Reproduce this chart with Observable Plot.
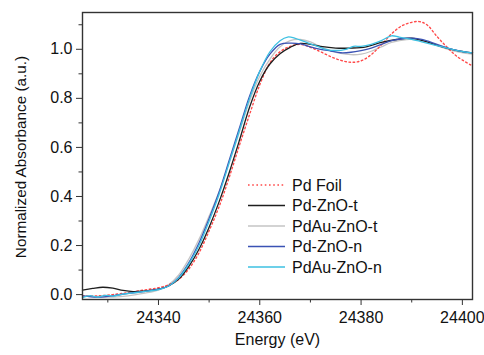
<!DOCTYPE html>
<html>
<head>
<meta charset="utf-8">
<script src="https://cdn.jsdelivr.net/npm/d3@7"></script>
<script src="https://cdn.jsdelivr.net/npm/@observablehq/plot@0.6"></script>
<style>
  html, body { margin: 0; padding: 0; background: #fff; }
  #chart { width: 484px; height: 355px; }
</style>
</head>
<body>
<div id="chart"></div>
<script>
// ---- data ----
const seriesNames = ["Pd Foil", "Pd-ZnO-t", "PdAu-ZnO-t", "Pd-ZnO-n", "PdAu-ZnO-n"];
const seriesColors = ["#ff4a4a", "#1e1e1e", "#c4c4c4", "#3a52b4", "#3cc0e2"];

const pdFoilE = [24325,24328,24331,24334,24337,24340,24342,24344,24346,24348,24350,24352,24354,24356,24358,24360,24362,24364,24366,24368,24370,24372,24374,24376,24378,24380,24382,24384,24386,24388,24390,24391.5,24393,24395,24397,24399,24402];
const pdFoilA = [-0.005,-0.005,0.0,0.008,0.018,0.028,0.04,0.062,0.105,0.17,0.26,0.36,0.48,0.61,0.735,0.855,0.945,0.99,1.012,1.02,1.008,0.99,0.97,0.955,0.947,0.953,0.978,1.018,1.063,1.095,1.11,1.113,1.1,1.052,1.008,0.97,0.932];

const pdZnOtE = [24325,24327,24329,24331,24333,24335,24337,24340,24342,24344,24346,24348,24350,24352,24354,24356,24358,24360,24362,24364,24366,24368,24370,24372,24375,24378,24381,24384,24387,24390,24393,24396,24399,24402];
const pdZnOtA = [0.018,0.025,0.03,0.026,0.017,0.012,0.014,0.022,0.035,0.063,0.115,0.185,0.275,0.38,0.5,0.63,0.765,0.87,0.94,0.982,1.008,1.024,1.02,1.012,1.005,1.005,1.01,1.028,1.04,1.045,1.03,1.01,0.995,0.985];

const pdAuZnOtE = [24325,24328,24331,24334,24337,24340,24342,24344,24346,24348,24350,24352,24354,24356,24358,24360,24362,24364,24366,24368,24370,24372,24374,24376,24378,24380,24382,24384,24386,24389,24392,24395,24398,24402];
const pdAuZnOtA = [-0.005,-0.01,-0.01,-0.005,0.005,0.018,0.04,0.08,0.145,0.225,0.32,0.42,0.54,0.665,0.79,0.89,0.96,1.01,1.035,1.04,1.03,1.01,0.995,0.983,0.978,0.98,0.992,1.01,1.028,1.04,1.035,1.015,0.995,0.98];

const pdZnOnE = [24325,24328,24331,24334,24337,24340,24342,24344,24346,24348,24350,24352,24354,24356,24358,24360,24362,24364,24366,24368,24370,24372,24374,24376,24378,24380,24382,24384,24386,24389,24392,24395,24398,24402];
const pdZnOnA = [-0.005,-0.01,-0.005,0.005,0.012,0.022,0.035,0.07,0.13,0.21,0.31,0.42,0.55,0.68,0.81,0.91,0.98,1.02,1.025,1.022,1.01,1.0,0.993,0.986,0.988,0.995,1.005,1.02,1.035,1.045,1.04,1.02,1.0,0.985];

const pdAuZnOnE = [24325,24326.5,24328,24329.5,24331,24333,24335,24337,24340,24342,24344,24346,24348,24350,24352,24354,24356,24358,24360,24362,24364,24365.5,24367,24369,24371,24373,24375,24377,24378.5,24380,24382,24384,24386,24387.5,24390,24393,24396,24399,24402];
const pdAuZnOnA = [-0.012,-0.004,-0.01,-0.003,-0.006,0.002,0.007,0.012,0.02,0.035,0.068,0.125,0.2,0.3,0.41,0.54,0.67,0.8,0.91,0.99,1.035,1.05,1.045,1.03,1.015,1.0,0.995,1.0,1.012,1.012,1.02,1.035,1.055,1.05,1.04,1.025,1.01,0.995,0.985];

const xMajorTicks = [24340, 24360, 24380, 24400];
const xMinorTicks = [24330, 24350, 24370, 24390];
const yMajorTicks = [0.0, 0.2, 0.4, 0.6, 0.8, 1.0];
const yMinorTicks = [0.1, 0.3, 0.5, 0.7, 0.9, 1.1];
const xLabel = "Energy (eV)";
const yLabel = "Normalized Absorbance (a.u.)";

// ---- build table ----
const seriesE = [pdFoilE, pdZnOtE, pdAuZnOtE, pdZnOnE, pdAuZnOnE];
const seriesA = [pdFoilA, pdZnOtA, pdAuZnOtA, pdZnOnA, pdAuZnOnA];
const tables = seriesNames.map((name, i) => seriesE[i].map((e, j) => ({name, e, a: seriesA[i][j]})));

const font = "'Liberation Sans', Arial, Helvetica, sans-serif";
const lineMark = (i, extra = {}) => Plot.line(tables[i], {
  x: "e", y: "a", stroke: seriesColors[i], strokeWidth: 1.3, curve: "catmull-rom", ...extra
});

const plot = Plot.plot({
  width: 484,
  height: 355,
  marginLeft: 82,
  marginRight: 12,
  marginTop: 12,
  marginBottom: 56,
  style: {fontFamily: font, fontSize: "16px", color: "#111", background: "#fff"},
  x: {domain: [24325, 24402]},
  y: {domain: [-0.02, 1.15]},
  marks: [
    lineMark(2),
    lineMark(0, {strokeDasharray: "1.6,2.6", strokeWidth: 1.4}),
    lineMark(1),
    lineMark(3),
    lineMark(4),
    Plot.axisX({ticks: xMajorTicks, tickSize: 6, tickPadding: 6.5, tickFormat: d3.format("d"), label: null, fontSize: 16, stroke: "#333"}),
    Plot.axisX({ticks: xMinorTicks, tickSize: 3.5, tickFormat: null, text: null, label: null, stroke: "#333"}),
    Plot.axisY({ticks: yMajorTicks, tickSize: 6, tickPadding: 4, tickFormat: d3.format(".1f"), label: null, fontSize: 16, stroke: "#333"}),
    Plot.axisY({ticks: yMinorTicks, tickSize: 3.5, tickFormat: null, text: null, label: null, stroke: "#333"}),
    Plot.frame({stroke: "#333", strokeWidth: 1.4}),
    Plot.text([xLabel], {text: d => d, frameAnchor: "bottom", textAnchor: "middle", dy: 45, fontSize: 16, fill: "#111"}),
    Plot.text([yLabel], {text: d => d, frameAnchor: "left", textAnchor: "middle", rotate: -90, dx: -61.5, dy: 1, fontSize: 15.3, fill: "#111"})
  ]
});

// ---- legend inside plot ----
const svg = d3.select(plot);
const lg = svg.append("g").attr("font-family", font).attr("font-size", 16).attr("fill", "#111").attr("text-anchor", "start");
const rowY = [185, 205.5, 226, 246.5, 267];
seriesNames.forEach((name, i) => {
  const g = lg.append("g").attr("transform", `translate(0,${rowY[i]})`);
  const ln = g.append("line").attr("x1", 248).attr("x2", 285).attr("y1", 0).attr("y2", 0)
    .attr("stroke", seriesColors[i]).attr("stroke-width", i === 0 ? 1.4 : 1.6);
  if (i === 0) ln.attr("stroke-dasharray", "1.6,2.6");
  g.append("text").attr("x", 292).attr("y", 0).attr("dy", "0.35em").attr("text-anchor", "start").text(name);
});

document.getElementById("chart").appendChild(plot);
</script>
</body>
</html>
